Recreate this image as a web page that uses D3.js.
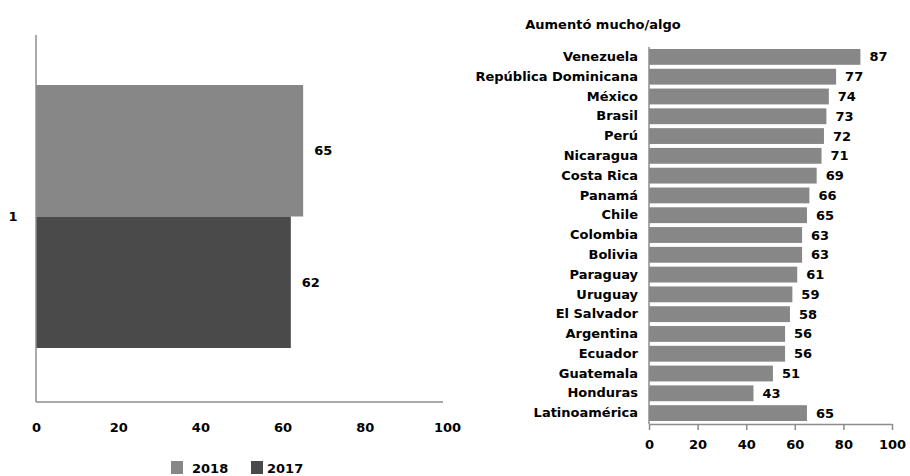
<!DOCTYPE html>
<html>
<head>
<meta charset="utf-8">
<script src="https://cdn.jsdelivr.net/npm/d3@7"></script>
<style>
  body { margin: 0; background: #fff; }
  svg { display: block; font-weight: bold; }
</style>
</head>
<body>
<div id="chart"></div>
<script>
// Left chart: overall, 2018 vs 2017
const years = ["2018", "2017"]
const yearValues = [65, 62]
const yearColors = ["#878787", "#4a4a4a"]

// Right chart: by country
const countries = ["Venezuela", "República Dominicana", "México", "Brasil", "Perú", "Nicaragua",
  "Costa Rica", "Panamá", "Chile", "Colombia", "Bolivia", "Paraguay", "Uruguay", "El Salvador",
  "Argentina", "Ecuador", "Guatemala", "Honduras", "Latinoamérica"]
const countryValues = [87, 77, 74, 73, 72, 71, 69, 66, 65, 63, 63, 61, 59, 58, 56, 56, 51, 43, 65]
const xTicks = [0, 20, 40, 60, 80, 100]

const width = 910
const height = 476
const axisColor = "#8c8c8c"
// no serif installed, DejaVu Sans bold is the closest in width
const fontFamily = "'DejaVu Sans', sans-serif"
const fontSize = "13px"

const svg = d3.select("#chart").append("svg")
  .attr("width", width)
  .attr("height", height)
  .style("font-family", fontFamily)
  .style("font-size", fontSize)

const styleText = g => g.selectAll("text").attr("fill", "#000")
  .style("font-family", fontFamily).style("font-weight", "bold").style("font-size", fontSize)

// ---- left chart ----
const x1 = d3.scaleLinear().domain([0, 100]).range([36, 447])
const y1 = d3.scaleBand().domain(years).range([85, 348])

const left = svg.append("g")

left.selectAll("rect")
  .data(years)
  .join("rect")
  .attr("x", x1(0))
  .attr("y", d => y1(d))
  .attr("width", (d, i) => x1(yearValues[i]) - x1(0))
  .attr("height", y1.bandwidth())
  .attr("fill", (d, i) => yearColors[i])

left.selectAll("text.val")
  .data(years)
  .join("text")
  .attr("class", "val")
  .attr("x", (d, i) => x1(yearValues[i]) + 11)
  .attr("y", d => y1(d) + y1.bandwidth() / 2)
  .attr("dy", "0.35em")
  .text((d, i) => yearValues[i])

// y axis line + category label
left.append("line")
  .attr("x1", x1(0)).attr("x2", x1(0))
  .attr("y1", 35).attr("y2", 402)
  .attr("stroke", axisColor).attr("stroke-width", 1.5)
left.append("line")
  .attr("x1", x1(0)).attr("x2", 443)
  .attr("y1", 402).attr("y2", 402)
  .attr("stroke", axisColor).attr("stroke-width", 1.5)
left.append("text")
  .attr("x", 13)
  .attr("y", (y1.range()[0] + y1.range()[1]) / 2)
  .attr("dy", "0.35em")
  .attr("text-anchor", "middle")
  .text("1")

left.append("g")
  .attr("transform", "translate(0,402)")
  .call(d3.axisBottom(x1).tickValues(xTicks).tickSize(0).tickPadding(21))
  .call(g => g.select(".domain").remove())
  .call(styleText)

// legend
const legend = svg.append("g")
const legX = [171, 251]
years.forEach((yr, i) => {
  legend.append("rect")
    .attr("x", legX[i]).attr("y", 461)
    .attr("width", 12).attr("height", 13)
    .attr("fill", yearColors[i])
  legend.append("text")
    .attr("x", legX[i] + (i === 0 ? 21 : 16)).attr("y", 468)
    .attr("dy", "0.35em")
    .text(yr)
})

// ---- right chart ----
const x2 = d3.scaleLinear().domain([0, 100]).range([649, 892])
const y2 = d3.scaleBand().domain(countries).range([47, 423]).paddingInner(0.2).paddingOuter(0.1)

const right = svg.append("g")

right.append("text")
  .attr("x", 603).attr("y", 24)
  .attr("dy", "0.35em")
  .attr("text-anchor", "middle")
  .text("Aumentó mucho/algo")

right.selectAll("rect")
  .data(countries)
  .join("rect")
  .attr("x", x2(0))
  .attr("y", d => y2(d))
  .attr("width", (d, i) => x2(countryValues[i]) - x2(0))
  .attr("height", y2.bandwidth())
  .attr("fill", "#878787")

right.selectAll("text.val")
  .data(countries)
  .join("text")
  .attr("class", "val")
  .attr("x", (d, i) => x2(countryValues[i]) + 9)
  .attr("y", d => y2(d) + y2.bandwidth() / 2)
  .attr("dy", "0.35em")
  .text((d, i) => countryValues[i])

right.append("g")
  .attr("transform", `translate(${x2(0)},0)`)
  .call(d3.axisLeft(y2).tickSize(0).tickPadding(11))
  .call(g => g.select(".domain").attr("stroke", axisColor).attr("stroke-width", 1.5)
    .attr("d", "M0,47V424"))
  .call(styleText)

right.append("g")
  .attr("transform", "translate(0,424)")
  .call(d3.axisBottom(x2).tickValues(xTicks).tickSize(6).tickSizeOuter(0).tickPadding(10))
  .call(g => g.select(".domain").attr("stroke", axisColor).attr("stroke-width", 1.5))
  .call(g => g.selectAll(".tick line").attr("stroke", axisColor).attr("stroke-width", 1.5))
  .call(styleText)
</script>
</body>
</html>
